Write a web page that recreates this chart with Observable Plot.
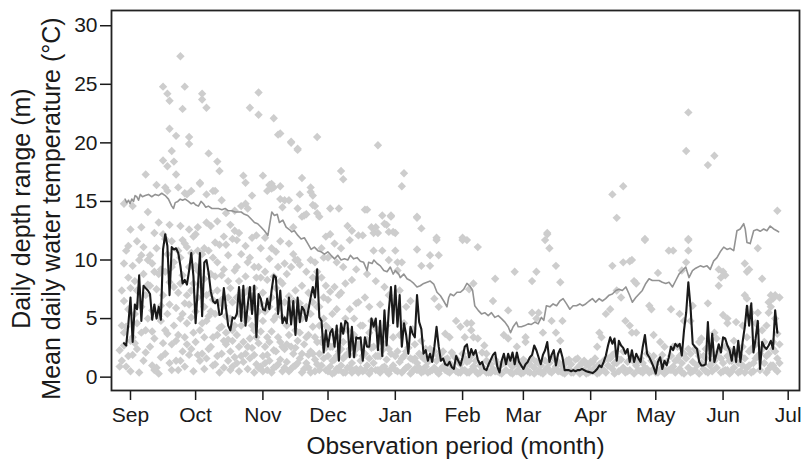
<!DOCTYPE html>
<html>
<head>
<meta charset="utf-8">
<script src="https://cdn.jsdelivr.net/npm/d3@7"></script>
<script src="https://cdn.jsdelivr.net/npm/@observablehq/plot@0.6"></script>
<style>
html, body { margin: 0; padding: 0; background: #fff; }
#chart svg { display: block; }
#chart svg g[aria-label$="axis tick"] path, #chart svg .tick line { stroke-width: 1.5px; }
</style>
</head>
<body>
<div id="chart"></div>
<script>
// Day 0 of every series = 29 Aug; values indexed by day offset
const startDate = "2010-08-29";
const monthTicks = ["2010-09-01","2010-10-01","2010-11-01","2010-12-01","2011-01-01","2011-02-01",
  "2011-03-01","2011-04-01","2011-05-01","2011-06-01","2011-07-01"];
const yTicks = [0, 5, 10, 15, 20, 25, 30];

// Mean daily depth range (black line), one value per day from day 0
const meanDepthRange = [
  2.9,2.7,4.5,6.8,3.0,6.2,5.8,8.7,4.8,7.8,
  7.6,7.4,7.1,4.9,6.2,5.0,6.0,4.9,10.9,12.2,
  11.2,7.0,11.1,10.9,11.0,10.6,9.5,8.0,8.3,7.9,
  9.1,10.6,8.6,4.6,7.6,10.6,5.2,9.8,10.0,8.9,
  7.3,6.5,6.3,6.6,5.3,5.4,7.6,5.9,4.4,4.0,
  5.1,
  5.0,5.4,7.7,4.8,7.8,4.4,6.1,7.7,5.4,7.8,
  3.4,7.1,6.7,5.8,5.7,6.7,5.8,7.4,8.7,8.5,
  5.4,7.4,4.6,5.1,4.6,6.8,4.5,6.5,3.6,6.8,
  4.7,6.0,5.7,4.8,5.8,6.8,7.7,6.8,9.2,5.1,
  4.8,2.1,4.0,2.6,3.8,4.1,2.6,4.4,1.4,4.6,
  3.7,4.8,4.6,1.7,
  4.3,1.7,3.4,3.3,3.4,1.4,3.4,2.6,2.6,5.0,
  4.3,5.0,2.3,4.8,1.8,5.7,2.7,5.7,7.7,4.6,
  7.8,4.3,7.0,2.6,4.6,3.6,2.0,4.3,3.7,3.4,
  7.0,4.7,4.1,2.0,2.3,1.4,2.0,1.3,2.6,4.3,
  2.6,1.4,1.6,1.1,1.0,1.3,0.85,0.7,1.8,1.4,
  1.0,1.7,2.6,2.8,
  1.7,2.4,1.9,2.3,1.5,1.1,1.3,0.7,0.6,1.1,
  1.5,1.9,2.1,0.9,0.4,1.4,2.0,1.1,2.0,1.4,
  2.1,1.1,2.1,1.3,1.0,0.7,1.1,1.3,1.7,1.9,
  2.7,2.3,1.7,1.1,1.9,2.3,3.0,1.3,1.9,2.3,
  1.0,2.0,2.4,1.7,0.6,0.6,0.6,0.5,0.6,0.5,
  0.6,0.6,0.7,
  0.6,0.5,0.45,0.4,0.35,0.5,0.7,1.0,0.85,1.3,
  1.85,2.7,3.4,2.85,3.3,1.4,3.1,2.7,2.5,2.0,
  2.4,1.3,2.3,1.3,2.0,1.6,1.3,2.6,3.6,2.0,
  1.7,1.3,0.85,0.3,1.3,1.7,0.7,1.4,1.0,1.7,
  2.6,2.3,2.85,2.6,2.85,1.85,4.0,5.5,8.1,6.0,
  2.85,2.6,2.4,1.3,
  1.0,1.0,1.1,4.7,1.4,3.7,1.3,2.0,2.8,2.1,
  3.4,3.3,2.7,2.3,1.4,2.6,1.3,3.1,1.3,3.0,
  4.3,6.1,4.4,6.3,2.1,3.3,4.8,0.7,3.0,2.6,
  2.4,2.7,3.1,2.4,5.7,3.8
];

// Mean daily water temperature (grey line): [day, °C]
const waterTemp = [
  [0.5,15.2],[1.3,14.9],[2.1,15.1],[2.8,14.8],[3.6,15.2],[4.4,15.0],[5.1,15.5],[5.9,15.4],[6.7,15.1],[7.5,15.6],
  [8.5,15.4],[9.8,15.5],[11.3,15.6],[12.8,15.4],[14.4,15.6],[15.9,15.5],[17.4,15.7],[19.0,15.5],[20.5,15.2],[22.0,14.6],
  [22.8,14.4],[23.6,14.9],[24.8,15.0],[25.9,15.2],[27.0,15.1],[28.2,15.2],[29.7,15.0],[31.0,14.8],[32.0,14.9],[33.1,14.7],
  [34.3,14.6],[35.5,15.0],[36.6,14.8],[37.7,14.5],[38.9,14.6],[40.5,14.4],[42.0,14.4],[43.5,14.4],[45.1,14.3],[46.6,14.4],
  [48.1,14.2],[49.7,14.2],[51.2,14.1],[54.0,14.1],[55.5,13.9],[57.0,13.8],[58.6,13.5],[60.1,13.2],[61.6,13.1],[63.2,12.8],
  [64.7,12.5],[66.3,12.1],[67.0,12.9],[68.1,14.1],[69.3,13.8],[70.6,13.9],[71.6,13.2],[73.2,13.4],[74.7,12.8],[76.2,12.6],
  [77.3,12.4],[78.5,12.5],[80.1,12.1],[81.6,11.8],[83.1,11.9],[84.7,11.4],[86.2,10.9],[87.7,11.1],[89.3,10.8],[90.8,10.7],
  [92.4,10.5],[93.9,10.7],[95.4,10.4],[97.0,10.1],[98.5,10.4],[100.0,10.0],[101.6,10.1],[103.1,10.0],[104.3,10.4],[105.8,10.1],
  [107.4,10.2],[108.9,9.9],[110.4,9.8],[112.0,9.1],[112.7,9.8],[114.3,9.7],[115.1,10.0],[116.6,9.7],[118.1,9.5],[119.7,9.1],
  [121.2,9.0],[122.7,9.4],[124.0,8.8],[125.0,9.1],[126.6,8.8],[127.3,8.5],[128.9,8.8],[130.4,8.4],[131.9,8.25],[133.5,8.0],
  [135.0,7.7],[136.5,7.8],[138.1,8.0],[139.6,8.1],[141.1,8.2],[142.7,7.95],[144.2,7.25],[145.8,6.95],[147.3,6.5],[148.8,6.0],
  [149.6,6.8],[150.4,7.1],[151.9,6.95],[153.4,7.25],[155.0,7.25],[156.5,7.5],[158.0,8.0],[159.3,7.8],[160.6,7.4],[161.6,6.1],
  [163.2,5.7],[164.7,5.4],[166.2,5.5],[167.8,5.25],[169.3,5.5],[170.9,5.1],[172.4,5.25],[173.9,5.0],[175.5,4.7],[177.0,4.3],
  [178.1,3.8],[179.3,4.3],[180.8,4.7],[181.6,4.3],[183.1,4.3],[184.7,4.4],[186.2,4.55],[187.7,4.5],[189.3,4.7],[190.8,4.55],
  [192.3,5.1],[193.4,4.85],[194.6,6.1],[196.2,6.0],[197.7,6.25],[199.3,6.1],[200.8,6.5],[202.3,6.7],[203.9,6.25],[205.4,5.8],
  [206.9,6.1],[208.5,6.1],[210.0,6.25],[211.2,6.1],[212.7,6.25],[214.3,6.5],[215.8,6.7],[217.3,6.4],[218.9,6.7],[220.4,6.5],
  [221.9,6.7],[223.5,7.0],[225.0,7.1],[226.6,7.4],[228.1,7.5],[229.6,7.4],[231.2,7.7],[232.7,7.1],[234.2,6.4],[235.8,6.8],
  [237.3,7.1],[238.8,7.4],[240.4,8.0],[241.9,8.4],[243.4,8.25],[245.0,8.25],[246.5,8.25],[248.0,8.1],[249.6,8.0],[251.1,8.1],
  [252.7,7.7],[254.2,8.25],[255.7,8.8],[257.3,9.1],[258.8,9.4],[260.3,8.5],[261.9,9.1],[263.4,9.3],[265.5,9.5],[267.0,9.4],
  [268.6,9.5],[270.1,9.2],[271.6,9.9],[273.2,10.2],[274.7,10.7],[276.3,11.1],[277.8,10.9],[279.3,11.0],[280.9,10.8],[282.4,12.5],
  [283.9,12.65],[285.5,13.1],[286.2,12.65],[287.0,11.5],[288.5,11.4],[290.1,12.5],[291.6,12.6],[293.1,12.45],[294.7,12.65],[296.2,12.5],
  [297.7,12.9],[299.3,12.65],[300.8,12.5],[301.6,12.4]
];

// Individual daily depth ranges (grey diamonds): [day, m]
const depthSep = [
  [-2,0.9],[-2,2.3],[-1,4.4],[-1,1.4],[0,2.7],[0,6.5],[0,9.7],[0,14.8],[1,0.9],[1,4.3],[2,8.5],[2,11.2],[2,1.8],[3,0.5],[3,3.1],
  [4,14.6],[4,9.5],[4,3.4],[4,1.9],[5,5.4],[5,8.2],[6,11.6],[6,2.4],[7,10.0],[7,0.4],[7,6.3],[8,10.4],[8,3.8],[9,11.1],[9,1.4],
  [10,17.3],[10,4.0],[10,7.0],[11,14.1],[11,7.9],[12,10.4],[12,2.6],[13,9.7],[13,5.7],[13,1.0],[14,3.3],[14,12.3],[15,16.4],[15,7.5],
  [15,0.8],[16,13.2],[16,0.3],[17,9.2],[17,6.1],[17,4.8],[18,24.8],[18,18.5],[18,2.9],[19,16.2],[19,2.0],[19,11.8],[20,24.2],[20,18.0],
  [20,15.9],[20,5.4],[20,3.7],[21,23.6],[21,21.2],[21,13.0],[21,8.1],[21,1.2],[22,19.3],[22,9.4],[22,0.6],[23,18.4],[23,4.4],[24,20.6],
  [24,17.3],[24,3.1],[24,1.4],[25,16.2],[25,0.6],[25,10.8],[26,27.4],[26,12.9],[26,8.0],[26,5.0],[27,22.9],[27,11.7],[27,5.4],[27,2.2],
  [28,24.8],[28,15.7],[28,3.4],[28,0.9],[29,15.6],[29,11.1],[29,7.0],[30,20.5],[30,19.9],[30,12.6],[30,9.4],[30,1.9],[31,7.4],[31,5.1],
  [31,15.9],[32,0.5],[32,3.8],
  [-1,7.4],[0,3.8],[1,10.8],[2,5.8],[3,7.6],[3,12.6],[5,2.9],[6,7.4],[6,4.6],[8,6.0],[8,12.8],[9,8.8],[10,2.1],[11,5.0],[11,10.0],
  [12,7.8],[13,3.9],[14,9.0],[14,0.6],[15,11.0],[16,5.2],[16,8.8],[17,1.7],[18,7.0],[18,12.2],[19,4.0],[19,9.0],[20,10.5],[21,6.2],
  [22,2.8],[22,11.6],[23,7.7],[23,9.8],[24,5.9],[25,3.6],[25,7.2],[26,1.4],[26,10.2],[27,8.7],[28,6.3],[28,11.4],[29,2.8],[29,4.6],
  [30,6.2],[31,10.6],[31,2.4],[32,8.0],[32,12.0]
];
const depthOct = [
  [33,3.0],[33,12.2],[34,12.8],[34,9.1],[34,6.8],[34,10.8],[35,16.5],[35,16.6],[35,1.4],[36,24.2],[36,23.7],[36,4.6],[37,11.0],[37,3.4],
  [37,0.7],[38,23.0],[38,13.2],[38,7.0],[38,4.8],[38,15.6],[39,19.1],[39,2.4],[40,8.8],[40,2.6],[40,5.6],[41,15.9],[41,10.2],[41,1.0],
  [42,11.5],[42,5.4],[42,1.1],[42,15.9],[43,18.4],[43,13.3],[43,7.4],[43,3.6],[44,17.6],[44,0.4],[44,4.2],[45,8.7],[45,4.3],[45,15.1],
  [45,2.0],[46,12.0],[46,0.8],[46,6.1],[47,11.3],[47,2.8],[47,3.8],[48,8.2],[48,6.8],[48,1.4],[49,13.0],[49,5.0],[49,2.2],[50,11.8],
  [50,4.0],[50,0.9],[50,3.1],[51,12.5],[51,9.1],[51,1.7],[52,11.7],[52,6.8],[52,3.6],[53,8.2],[53,0.5],[53,2.6],[54,10.5],[54,14.6],
  [54,4.4],[55,17.2],[55,7.1],[55,1.3],[55,3.0],[56,16.6],[56,14.8],[56,8.6],[56,2.0],[57,9.8],[57,14.4],[57,5.0],[57,0.7],[58,23.0],
  [58,10.2],[58,3.3],[58,1.6],[59,15.5],[59,6.9],[59,2.5],[60,9.4],[60,4.0],[60,0.4],[61,12.1],[61,1.1],[61,5.8],[62,24.3],[62,22.4],
  [62,9.4],[62,2.9],[63,8.5],[63,0.9],[63,3.9],
  [33,5.6],[33,9.5],[34,1.9],[35,7.9],[35,4.0],[36,10.5],[36,2.0],[37,6.0],[37,8.4],[38,1.6],[39,5.2],[39,10.8],[40,12.9],[40,7.2],
  [41,3.4],[41,6.6],[42,8.6],[43,1.8],[43,9.8],[44,6.4],[44,11.3],[45,6.6],[46,3.1],[46,9.2],[47,5.2],[47,14.0],[48,3.2],[48,10.4],
  [49,7.6],[49,0.6],[50,6.4],[51,4.4],[51,14.2],[52,1.2],[52,9.4],[53,5.4],[53,12.3],[54,7.2],[54,1.8],[55,5.3],[56,4.8],[56,11.2],
  [57,2.6],[57,7.4],[58,6.0],[59,4.4],[59,11.9],[60,7.6],[60,1.9],[61,3.4],[61,8.5],[62,5.6],[62,0.8],[63,6.3],[63,11.0]
];
const depthNov = [
  [64,17.2],[64,1.8],[64,4.8],[65,9.0],[65,11.9],[65,2.6],[66,15.9],[66,0.6],[66,3.4],[67,16.4],[67,6.0],[67,1.4],[68,16.5],[68,16.1],
  [68,11.0],[68,3.9],[69,22.1],[69,16.2],[69,8.6],[69,0.8],[70,10.7],[70,2.2],[70,5.2],[71,20.7],[71,9.4],[71,1.1],[72,20.8],[72,16.3],
  [72,15.2],[72,8.2],[72,3.0],[73,14.5],[73,0.5],[73,5.1],[74,15.1],[74,9.7],[74,2.4],[75,4.4],[75,1.3],[76,15.1],[76,11.4],[76,3.6],
  [77,20.0],[77,20.1],[77,9.4],[77,0.7],[78,10.5],[78,6.5],[78,2.0],[79,10.0],[79,1.0],[79,4.0],[80,19.5],[80,19.4],[80,14.4],[80,10.0],
  [80,3.1],[81,6.3],[81,15.6],[81,1.6],[82,17.0],[82,13.7],[82,0.4],[82,5.0],[83,13.8],[83,2.8],[84,13.9],[84,6.0],[84,9.0],[84,1.2],
  [85,3.6],[85,0.8],[86,16.2],[86,15.8],[86,10.0],[86,2.2],[87,14.7],[87,15.5],[87,8.5],[87,4.3],[88,14.6],[88,1.5],[88,0.5],[89,20.5],
  [89,14.0],[89,9.0],[89,3.0],[90,13.7],[90,2.0],[90,6.0],[91,8.5],[91,1.0],[92,6.8],[92,10.2],[92,3.4],[93,12.0],[93,0.6],[93,2.5],
  [64,7.2],[64,0.5],[65,5.6],[65,1.2],[66,8.3],[66,1.9],[67,10.1],[67,3.0],[68,6.8],[68,0.4],[69,4.9],[69,2.3],[70,7.6],[70,0.9],
  [71,5.8],[71,3.4],[72,11.6],[72,1.5],[73,8.0],[73,2.6],[74,6.4],[74,0.8],[75,8.8],[75,2.8],[76,6.9],[76,0.5],[77,5.4],[77,2.6],
  [78,12.8],[78,0.9],[79,7.4],[79,2.5],[80,5.6],[80,1.2],[81,9.6],[81,3.8],[82,7.8],[82,2.0],[83,5.6],[83,0.7],[84,3.4],[85,7.2],
  [85,1.9],[86,5.4],[86,0.4],[87,6.4],[87,2.0],[88,9.8],[88,3.4],[89,6.0],[89,1.1],[90,4.4],[90,0.6],[91,11.0],[91,3.0],[92,5.0],
  [92,1.6],[93,7.8],[93,4.4]
];
const depthDec = [
  [94,10.2],[94,1.8],[94,4.2],[95,14.4],[95,12.2],[95,7.3],[95,0.9],[96,2.6],[96,0.3],[97,11.4],[97,7.7],[97,1.5],[98,9.8],[98,3.5],
  [98,0.7],[99,14.4],[99,2.2],[100,17.6],[100,11.0],[100,7.2],[100,1.0],[101,16.9],[101,9.4],[101,0.4],[101,3.0],[102,1.8],[102,5.0],
  [103,12.9],[103,0.8],[104,5.8],[104,2.4],[104,11.7],[105,12.5],[105,1.2],[105,0.4],[106,3.6],[106,1.9],[107,6.3],[107,0.7],[108,12.1],
  [108,2.8],[109,4.4],[109,1.4],[110,12.1],[110,0.5],[111,14.3],[111,6.8],[111,2.0],[112,14.3],[112,1.0],[113,3.8],[113,6.0],[113,0.3],
  [114,12.8],[114,2.5],[115,10.8],[115,12.3],[115,1.2],[116,8.2],[116,0.6],[116,12.8],[117,19.8],[117,12.3],[117,1.8],[118,3.1],[118,0.4],
  [119,10.8],[119,13.8],[119,2.3],[120,7.7],[120,13.1],[120,0.9],[121,13.0],[121,1.5],[122,12.4],[122,10.0],[122,7.0],[122,0.3],
  [123,13.7],[123,13.8],[123,2.0],[124,12.4],[124,1.0],
  [94,6.6],[94,0.5],[95,2.6],[96,5.4],[96,1.4],[97,3.6],[97,0.4],[98,5.8],[98,1.8],[99,7.0],[99,0.6],[100,4.0],[100,2.4],[101,1.6],
  [102,8.0],[102,0.4],[103,4.0],[103,2.0],[104,0.8],[105,8.3],[105,2.8],[106,0.6],[106,5.0],[107,2.4],[107,9.2],[108,0.4],[108,6.4],
  [109,2.6],[109,0.7],[110,4.4],[110,1.8],[111,0.6],[112,3.2],[112,8.8],[113,1.6],[114,0.6],[114,4.8],[115,2.6],[116,1.8],[116,4.2],
  [117,0.6],[118,1.8],[118,6.2],[119,0.8],[120,2.8],[121,0.5],[121,4.4],[122,2.4],[123,0.7],[124,3.4]
];
const depthJan = [
  [125,10.8],[125,12.3],[125,0.6],[126,9.1],[126,9.8],[126,2.2],[127,7.4],[127,1.3],[128,16.3],[128,9.8],[128,0.4],[129,17.4],[129,4.6],
  [129,1.8],[130,6.0],[130,0.8],[131,2.5],[132,6.5],[132,0.3],[133,4.1],[133,1.5],[134,2.8],[134,0.7],[135,13.7],[135,10.9],[135,13.6],
  [135,1.2],[136,2.0],[137,12.7],[137,9.5],[137,3.1],[137,0.4],[138,1.6],[139,0.9],[139,2.4],[140,1.3],[141,10.4],[141,9.5],[141,0.5],
  [142,1.9],[143,6.7],[143,0.8],[144,11.9],[144,11.7],[144,1.4],[145,10.4],[145,6.0],[145,0.3],[146,2.0],[147,0.9],[148,3.7],[148,1.5],
  [149,0.5],[150,3.4],[150,1.2],[151,2.1],[152,0.7],[153,4.8],[153,1.6],[154,0.4],[155,4.3],[155,1.1],
  [125,1.8],[126,0.5],[127,3.6],[128,1.6],[129,0.6],[130,2.2],[131,0.9],[132,1.6],[133,0.5],[134,1.6],[135,0.6],[136,0.8],[137,1.8],
  [138,0.5],[139,1.5],[140,0.4],[141,2.4],[142,0.6],[143,2.2],[144,0.5],[145,1.8],[146,0.7],[147,2.2],[148,0.6],[149,1.6],[150,0.4],
  [151,0.9],[152,1.8],[153,0.5],[154,1.3],[155,0.4]
];
const depthFeb = [
  [156,11.9],[156,11.7],[156,2.0],[157,3.4],[157,0.6],[158,11.7],[158,4.6],[158,1.3],[159,7.5],[159,0.4],[160,4.6],[160,4.0],[160,1.8],
  [161,8.0],[161,3.4],[161,0.9],[162,1.4],[163,11.1],[163,3.3],[163,0.3],[164,1.0],[165,2.1],[166,2.7],[166,0.6],[167,2.0],[167,1.4],
  [168,0.4],[169,1.1],[170,6.5],[170,0.7],[171,8.4],[171,1.5],[172,0.5],[173,1.0],[174,0.3],[175,3.6],[175,1.2],[176,0.6],[177,5.7],
  [177,3.3],[177,1.4],[178,0.4],[179,0.9],[180,9.0],[180,1.3],[181,2.6],[181,0.5],[182,1.0],[183,0.3],
  [156,0.6],[157,1.6],[158,0.4],[159,1.4],[160,0.6],[162,0.5],[164,0.4],[165,0.9],[167,0.4],[168,1.2],[169,0.4],[171,0.5],[172,1.2],
  [173,0.4],[174,1.1],[176,1.4],[178,1.1],[179,0.3],[181,1.2],[182,0.5],[183,1.1]
];
const depthMar = [
  [184,1.5],[185,3.0],[185,3.4],[185,0.7],[186,1.2],[187,0.4],[188,8.2],[188,5.5],[188,1.6],[189,0.8],[190,9.0],[190,5.0],[190,1.3],
  [191,5.5],[191,0.5],[192,1.0],[193,3.8],[193,0.3],[194,11.7],[194,1.4],[195,12.2],[195,12.3],[195,0.8],[196,11.0],[196,1.2],[197,4.8],
  [197,0.4],[198,1.6],[199,9.5],[199,3.8],[199,0.9],[200,1.3],[201,8.1],[201,3.1],[201,0.5],[202,4.8],[202,1.0],[203,0.3],[204,1.4],
  [205,0.7],[206,1.1],[207,0.4],[208,1.5],[209,0.8],[210,0.3],[211,1.2],[212,1.4],[212,0.6],[213,0.3],[214,1.0],
  [184,0.4],[185,1.3],[186,0.5],[187,1.1],[189,0.3],[192,0.4],[194,0.6],[196,0.5],[198,0.6],[200,0.5],[202,0.4],[203,1.1],[205,1.5],
  [206,0.4],[208,0.6],[209,1.6],[210,1.0],[211,0.5],[213,1.1],[214,0.4]
];
const depthApr = [
  [215,0.5],[216,1.3],[217,0.8],[218,2.6],[218,0.3],[219,3.8],[219,1.1],[220,3.4],[220,0.6],[221,1.4],[222,5.4],[222,0.4],[223,1.0],
  [224,5.8],[224,1.6],[225,15.6],[225,9.5],[225,0.7],[226,2.0],[226,0.3],[227,13.6],[227,7.4],[227,1.2],[228,0.5],[229,6.8],[229,1.5],
  [230,16.3],[230,9.8],[230,0.8],[231,4.8],[231,0.4],[232,1.3],[233,9.9],[233,4.4],[233,0.6],[234,10.0],[234,3.8],[234,1.6],[235,8.2],
  [235,0.3],[236,8.0],[236,3.8],[236,1.0],[237,1.4],[238,0.5],[239,1.2],[240,11.7],[240,11.8],[240,0.8],[241,2.0],[242,6.1],[242,0.4],
  [243,5.8],[243,1.4],[244,3.6],[244,0.7],
  [215,1.3],[216,0.5],[217,1.6],[219,0.4],[221,0.6],[223,1.6],[225,1.9],[226,1.2],[228,1.5],[230,2.2],[232,0.5],[235,1.3],[237,0.6],
  [238,1.6],[239,0.4],[241,0.7],[243,0.5],[244,1.8]
];
const depthMay = [
  [245,1.1],[246,8.9],[246,0.4],[247,3.0],[247,1.5],[248,0.8],[249,2.6],[249,0.3],[250,1.3],[251,10.8],[251,0.6],[252,5.8],[252,1.8],
  [253,10.8],[253,2.6],[253,0.9],[254,0.4],[255,2.6],[255,1.5],[256,5.4],[256,0.7],[257,9.1],[257,1.2],[258,4.8],[258,0.3],[259,19.3],
  [259,9.8],[259,1.6],[260,22.6],[260,11.8],[260,11.7],[260,10.8],[260,0.8],[261,4.8],[261,2.0],[261,0.4],[262,6.1],[262,1.3],[263,2.4],
  [263,0.6],[264,1.0],[265,1.8],[265,0.3],[266,3.3],[266,1.2],[267,0.7],[268,2.4],[268,1.6],[269,18.1],[269,6.3],[269,0.4],[270,1.0],
  [271,2.0],[271,0.5],[272,18.9],[272,3.8],[272,1.4],[273,3.3],[273,0.8],[274,9.2],[274,7.8],[274,2.2],[275,8.5],[275,0.4],
  [245,0.4],[247,0.6],[248,1.9],[250,0.5],[252,0.6],[254,1.4],[256,1.8],[257,0.4],[258,2.0],[260,2.4],[262,0.5],[264,2.2],[265,3.0],
  [267,1.8],[268,0.5],[270,2.6],[271,1.3],[273,1.8],[275,1.6]
];
const depthJun = [
  [276,9.0],[276,5.3],[276,1.2],[277,8.7],[277,2.6],[277,0.6],[278,5.0],[278,4.6],[278,1.8],[279,0.3],[279,2.3],[280,1.4],[281,3.1],
  [281,0.8],[282,4.7],[282,2.0],[283,1.2],[284,0.5],[285,4.4],[285,2.6],[286,7.0],[286,9.7],[286,1.6],[287,6.7],[287,9.0],[287,3.4],
  [287,0.8],[288,9.2],[288,5.8],[288,2.2],[289,5.5],[289,0.4],[290,1.2],[291,4.6],[291,2.8],[292,11.0],[292,5.5],[292,1.8],[293,0.6],
  [294,8.4],[294,4.0],[294,2.4],[295,1.2],[296,4.4],[296,0.4],[297,6.4],[297,5.5],[297,2.0],[298,6.0],[298,7.0],[298,1.0],[299,3.0],
  [299,6.7],[299,2.4],[300,5.0],[300,7.0],[300,0.7],[301,14.2],[301,3.7],[301,1.6],[302,6.8],[302,2.8],
  [276,0.5],[278,0.6],[279,1.4],[280,0.5],[281,2.2],[283,0.4],[284,1.8],[285,1.0],[286,0.4],[288,1.0],[289,2.4],[290,0.5],[291,1.6],
  [293,2.0],[295,3.0],[296,1.8],[297,0.7],[299,1.0],[300,2.2],[301,0.5],[302,1.2]
];

const xLabel = "Observation period (month)";
const yLabel1 = "Daily depth range (m)";
const yLabel2 = "Mean daily water temperature (°C)";

// ---- build tables ----
const day0 = new Date(startDate + "T00:00:00Z").getTime();
const toDate = d => new Date(day0 + d * 864e5);
const lineData = meanDepthRange.map((v, i) => ({date: toDate(i), value: v}));
const tempData = waterTemp.map(([d, v]) => ({date: toDate(d), value: v}));
const scatter = [...depthSep, ...depthOct, ...depthNov, ...depthDec, ...depthJan, ...depthFeb,
  ...depthMar, ...depthApr, ...depthMay, ...depthJun].map(([d, v]) => ({date: toDate(d), value: v}));

const diamond = {
  draw(context, size) {
    const s = Math.sqrt(size / 2);
    context.moveTo(0, -s); context.lineTo(s, 0); context.lineTo(0, s); context.lineTo(-s, 0); context.closePath();
  }
};

const plot = Plot.plot({
  width: 804,
  height: 462,
  marginLeft: 111,
  marginRight: 5,
  marginTop: 10,
  marginBottom: 72,
  style: {fontFamily: "'Liberation Sans', Arial, Helvetica, sans-serif", fontSize: "21px", color: "#1a1a1a", background: "#fff"},
  x: {
    type: "utc",
    domain: [new Date(Date.UTC(2010, 7, 23, 6)), new Date(Date.UTC(2011, 6, 6, 5))],
    ticks: monthTicks.map(t => new Date(t + "T00:00:00Z")),
    tickFormat: d3.utcFormat("%b"),
    tickSize: 10,
    tickPadding: 7,
    label: null
  },
  y: {
    domain: [-1.14, 31.3],
    ticks: yTicks,
    tickSize: 11,
    tickPadding: 3,
    label: null
  },
  marks: [
    Plot.dot(scatter, {x: "date", y: "value", symbol: diamond, r: 3.35, fill: "#cdcdcd", stroke: "none"}),
    Plot.line(tempData, {x: "date", y: "value", stroke: "#939393", strokeWidth: 1.6}),
    Plot.line(lineData, {x: "date", y: "value", stroke: "#1a1a1a", strokeWidth: 2.1}),
    Plot.frame({stroke: "#222", strokeWidth: 1.8}),
    Plot.text([xLabel], {text: d => d, frameAnchor: "bottom", lineAnchor: "middle", textAnchor: "middle", dy: 56, fontSize: 24.5, fill: "#1a1a1a"}),
    Plot.text([yLabel1], {text: d => d, frameAnchor: "left", lineAnchor: "middle", textAnchor: "middle", rotate: -90, dx: -90, dy: 8, fontSize: 25, fill: "#1a1a1a"}),
    Plot.text([yLabel2], {text: d => d, frameAnchor: "left", lineAnchor: "middle", textAnchor: "middle", rotate: -90, dx: -60, dy: 8, fontSize: 25, fill: "#1a1a1a"})
  ]
});
document.getElementById("chart").appendChild(plot);
</script>
</body>
</html>
